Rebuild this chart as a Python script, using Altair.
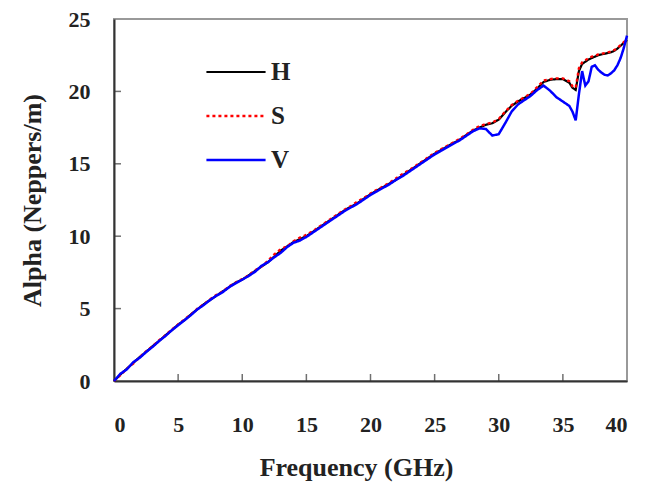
import altair as alt
import pandas as pd

# Frequency grids (GHz)
FREQ_LOW = [0.0, 0.5, 1.0, 1.5, 2.0, 2.5, 3.0, 3.5, 4.0, 4.5, 5.0, 5.5, 6.0, 6.5, 7.0, 7.5,
            8.0, 8.5, 9.0, 9.5, 10.0, 10.5, 11.0, 11.5, 12.0, 12.5, 13.0, 13.5, 14.0, 14.5,
            15.0, 15.5, 16.0, 16.5, 17.0, 17.5, 18.0, 18.5, 19.0, 19.5, 20.0, 20.5, 21.0,
            21.5, 22.0, 22.5, 23.0, 23.5, 24.0, 24.5, 25.0, 25.5, 26.0, 26.5, 27.0, 27.5,
            28.0, 28.5]
FREQ_HIGH = [29.0, 29.5, 30.0, 30.5, 31.0, 31.5, 32.0, 32.5, 33.0, 33.5, 34.0, 34.5, 35.0,
             35.5, 35.75, 36.0, 36.25, 36.5, 36.75, 37.0, 37.25, 37.5, 37.75, 38.0, 38.25,
             38.5, 38.75, 39.0, 39.25, 39.5, 39.75, 40.0]

H_LOW = [0.00, 0.45, 0.85, 1.25, 1.65, 2.00, 2.40, 2.75, 3.15, 3.50, 3.90, 4.20, 4.60, 4.95,
         5.30, 5.60, 5.90, 6.20, 6.50, 6.80, 7.00, 7.30, 7.60, 7.90, 8.20, 8.60, 9.00, 9.30,
         9.60, 9.80, 10.00, 10.30, 10.60, 10.90, 11.20, 11.50, 11.80, 12.05, 12.30, 12.60,
         12.90, 13.15, 13.40, 13.65, 13.90, 14.20, 14.50, 14.80, 15.10, 15.40, 15.70, 15.95,
         16.20, 16.45, 16.70, 17.00, 17.30, 17.50]
S_LOW = [0.00, 0.40, 0.85, 1.20, 1.65, 2.05, 2.40, 2.80, 3.15, 3.55, 3.90, 4.25, 4.60, 5.00,
         5.30, 5.65, 5.95, 6.20, 6.55, 6.80, 7.05, 7.30, 7.65, 7.90, 8.30, 8.75, 9.10, 9.30,
         9.65, 9.90, 10.10, 10.35, 10.65, 10.95, 11.25, 11.55, 11.85, 12.10, 12.40, 12.65,
         12.95, 13.20, 13.45, 13.70, 14.00, 14.30, 14.55, 14.85, 15.15, 15.45, 15.75, 16.00,
         16.25, 16.50, 16.75, 17.05, 17.35, 17.60]
V_LOW = [0.00, 0.50, 0.80, 1.30, 1.60, 2.00, 2.35, 2.75, 3.10, 3.50, 3.85, 4.20, 4.55, 4.95,
         5.25, 5.60, 5.90, 6.15, 6.50, 6.75, 7.00, 7.25, 7.55, 7.95, 8.20, 8.55, 8.85, 9.25,
         9.55, 9.70, 9.95, 10.25, 10.55, 10.85, 11.15, 11.45, 11.75, 12.00, 12.25, 12.55,
         12.85, 13.10, 13.35, 13.60, 13.90, 14.15, 14.45, 14.75, 15.05, 15.35, 15.65, 15.90,
         16.15, 16.40, 16.65, 16.95, 17.25, 17.45]

H_HIGH = [17.70, 17.80, 18.05, 18.55, 19.00, 19.30, 19.55, 19.80, 20.20, 20.65, 20.80, 20.85,
          20.85, 20.60, 20.25, 20.10, 21.40, 21.90, 22.05, 22.20, 22.30, 22.40, 22.50, 22.55,
          22.60, 22.65, 22.70, 22.80, 22.95, 23.15, 23.35, 23.55]
S_HIGH = [17.75, 17.85, 18.10, 18.60, 19.05, 19.35, 19.60, 19.85, 20.30, 20.75, 20.85, 20.90,
          20.90, 20.70, 20.35, 20.25, 21.60, 22.00, 22.15, 22.30, 22.40, 22.45, 22.55, 22.60,
          22.65, 22.70, 22.75, 22.85, 23.00, 23.20, 23.40, 23.60]
V_HIGH = [17.40, 16.95, 17.05, 17.80, 18.60, 19.10, 19.40, 19.70, 20.10, 20.40, 20.05, 19.60,
          19.30, 19.00, 18.60, 18.00, 19.80, 21.40, 20.40, 20.70, 21.70, 21.80, 21.50, 21.30,
          21.15, 21.10, 21.25, 21.45, 21.80, 22.30, 23.00, 23.85]

SERIES = ["H", "S", "V"]
COLORS = ["#000000", "#ff0000", "#0000ff"]
DASHES = [[1, 0], [3, 3], [1, 0]]
WIDTHS = [2.2, 2.5, 3.5]

X_TICKS = [5, 10, 15, 20, 25, 30, 35]
Y_TICKS = [5, 10, 15, 20]

freq = FREQ_LOW + FREQ_HIGH
rows = []
for name, vals in zip(SERIES, [H_LOW + H_HIGH, S_LOW + S_HIGH, V_LOW + V_HIGH]):
    for f, a in zip(freq, vals):
        rows.append({"Frequency": f, "Alpha": a, "Series": name})
df = pd.DataFrame(rows)

W, H = 513, 362
FONT = "Liberation Serif"

xscale = alt.Scale(domain=[0, 40], nice=False)
yscale = alt.Scale(domain=[0, 25], nice=False)

legend_common = dict(title=None, orient="none", legendX=91, legendY=22,
                     symbolType="stroke", symbolSize=3500, symbolStrokeWidth=2.5,
                     labelFont=FONT, labelFontWeight="bold", labelFontSize=25,
                     labelColor="#222222", labelOffset=4, rowPadding=-6)

lines = alt.Chart(df).mark_line().encode(
    x=alt.X("Frequency:Q", scale=xscale,
            axis=alt.Axis(title="Frequency (GHz)", values=[0, 5, 10, 15, 20, 25, 30, 35, 40],
                          ticks=False, labelPadding=33, titlePadding=19, titleX=242,
                          grid=False)),
    y=alt.Y("Alpha:Q", scale=yscale,
            axis=alt.Axis(title="Alpha (Neppers/m)", values=[0, 5, 10, 15, 20, 25],
                          ticks=False, labelPadding=24, titlePadding=23, grid=False)),
    color=alt.Color("Series:N", scale=alt.Scale(domain=SERIES, range=COLORS),
                    legend=alt.Legend(**legend_common)),
    strokeDash=alt.StrokeDash("Series:N", scale=alt.Scale(domain=SERIES, range=DASHES),
                              legend=alt.Legend(**legend_common)),
    strokeWidth=alt.StrokeWidth("Series:N", scale=alt.Scale(domain=SERIES, range=WIDTHS),
                                legend=None),
    order=alt.Order("Frequency:Q"),
)

xt = alt.Chart(pd.DataFrame({"t": X_TICKS})).mark_tick(
    orient="vertical", size=7, thickness=1.5, color="#333333"
).encode(x=alt.X("t:Q", scale=xscale), y=alt.value(H - 3.5))

yt = alt.Chart(pd.DataFrame({"t": Y_TICKS})).mark_tick(
    orient="horizontal", size=7, thickness=1.5, color="#333333"
).encode(y=alt.Y("t:Q", scale=yscale), x=alt.value(3.5))

chart = alt.layer(lines, xt, yt).properties(
    width=W, height=H,
    autosize=alt.AutoSizeParams(type="none"),
    padding={"left": 106, "top": 11, "right": 15, "bottom": 103},
).configure_view(
    stroke="#999999", strokeWidth=2
).configure_axis(
    domainColor="#333333", domainWidth=2,
    labelFont=FONT, labelFontWeight="bold", labelFontSize=22, labelColor="#222222",
    titleFont=FONT, titleFontWeight="bold", titleFontSize=26, titleColor="#222222",
)

chart.save("out.html", embed_options={"renderer": "svg", "actions": False})
